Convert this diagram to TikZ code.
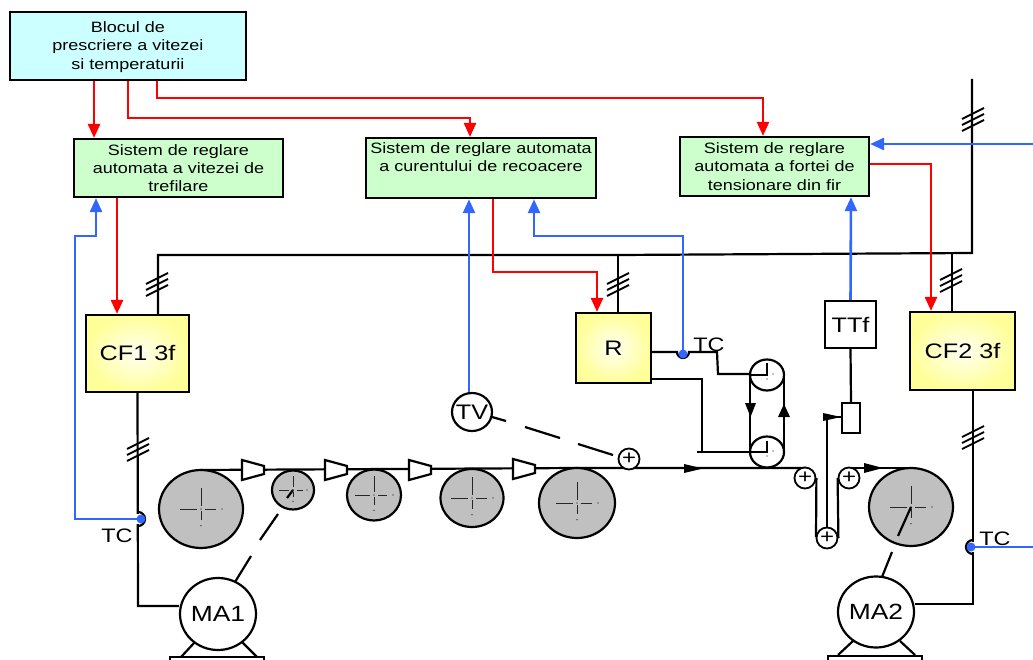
\documentclass[tikz,border=0pt]{standalone}
\usepackage{fontspec}
\setmainfont{Liberation Sans}
\newfontfamily\widefont[FakeStretch=1.2]{Liberation Sans}
\usetikzlibrary{arrows.meta,shapes.geometric,calc}
\definecolor{redw}{HTML}{FF0000}
\definecolor{bluew}{HTML}{3366FF}
\definecolor{rollgray}{HTML}{C0C0C0}
\definecolor{cyanb}{HTML}{CCFFFF}
\definecolor{greenb}{HTML}{CCFFCC}
\definecolor{yelout}{HTML}{FFFF99}
\definecolor{yelin}{HTML}{FFFFF2}
\tikzset{
  x=1pt,y=-1pt,
  blk/.style={line width=2.2pt,draw=black,line join=miter},
  redc/.style={line width=2.6pt,draw=redw,-{Triangle[length=14pt,width=12pt]}},
  bluec/.style={line width=2.6pt,draw=bluew,-{Triangle[length=14pt,width=12pt]}},
  bluep/.style={line width=2.6pt,draw=bluew},
  ctl/.style={draw=black,line width=2.2pt,fill=#1,align=center,inner sep=0pt,font=\widefont\fontsize{15}{18.2}\selectfont},
  yel/.style={draw=black,line width=2.2pt,inner color=yelin,outer color=yelout,align=center,inner sep=0pt,font=\widefont\fontsize{21}{22}\selectfont},
  roll/.style={ellipse,draw=black,line width=2.2pt,fill=rollgray,inner sep=0pt},
  wht/.style={ellipse,draw=black,line width=2.2pt,fill=white,inner sep=0pt,font=\widefont\fontsize{22}{24}\selectfont},
  plus/.style={circle,draw=black,line width=1.8pt,fill=white,inner sep=0pt,minimum size=#1,font=\widefont\fontsize{20}{20}\selectfont},
  lbl/.style={font=\widefont\fontsize{19.5}{20}\selectfont,inner sep=0pt},
  dot/.style={circle,fill=bluew,inner sep=0pt,minimum size=9pt},
}
% hash: three oblique ticks on a wire, centred at x,y
\newcommand{\hashm}[2]{\draw[line width=1.8pt] (#1-11,#2-1) -- (#1+11,#2-12) (#1-11,#2+5) -- (#1+11,#2-6) (#1-11,#2+11) -- (#1+11,#2);}
% centre mark
\newcommand{\centm}[3]{\draw[line width=1pt,draw=black!85] (#1-#3,#2) -- (#1-4,#2) (#1+4,#2) -- (#1+#3*0.7,#2) (#1,#2-#3) -- (#1,#2-3) (#1,#2+2) -- (#1,#2+#3*0.5);
  \fill (#1+#3,#2) circle (.6) (#1,#2+#3*0.8) circle (.6) (#1,#2) circle (.7);}
% nozzle
\newcommand{\nozz}[2]{\draw[line width=2.2pt,fill=white] (#1,#2-10) -- (#1+22,#2-4) -- (#1+22,#2+4) -- (#1,#2+10) -- cycle;}
\begin{document}
\begin{tikzpicture}
\useasboundingbox (0,0) rectangle (1033,660);
% control boxes
\node[ctl=cyanb,minimum width=236pt,minimum height=68pt] (top) at (128,46) {\rule{0pt}{13pt}Blocul de\\prescriere a vitezei\\si temperaturii};
\node[ctl=greenb,minimum width=209pt,minimum height=58pt] (g1) at (178.5,168) {Sistem de reglare\\automata a vitezei de\\trefilare};
\node[ctl=greenb,minimum width=230pt,minimum height=60pt,anchor=north,text depth=22pt] (g2) at (481,137) {Sistem de reglare automata\\a curentului de recoacere};
\node[ctl=greenb,minimum width=189pt,minimum height=59pt] (g3) at (774.5,166.5) {Sistem de reglare\\automata a fortei  de\\tensionare din fir};
% power boxes
\node[yel,minimum width=103pt,minimum height=77pt] (cf1) at (137.5,353.5) {CF1 3f};
\node[yel,minimum width=75pt,minimum height=70pt] (r) at (613.5,348) {R};
\node[yel,minimum width=105pt,minimum height=78pt] (cf2) at (962.5,351) {CF2 3f};
\node[draw=black,line width=2.2pt,fill=white,minimum width=51pt,minimum height=47pt,inner sep=0pt,font=\widefont\fontsize{21}{22}\selectfont] (ttf) at (850.5,324.5) {TTf};
\node[draw=black,line width=2.2pt,fill=white,minimum width=18pt,minimum height=30pt,inner sep=0pt] (sens) at (851,418) {};
% bus
\coordinate (bustop) at (972,79);
\draw[blk] (cf1.north -| 158,0) |- (618,255) -- (972,253) -- (bustop);
\draw[blk] (618,254) -- (r.north -| 618,0);
\draw[blk] (952,253) -- (cf2.north -| 952,0);
\hashm{157}{285}\hashm{618}{285}\hashm{951}{281}\hashm{973}{120}
% motors
\node[wht,minimum width=76pt,minimum height=72pt] (ma1) at (218,614) {\makebox[0pt]{MA1}};
\node[wht,minimum width=76pt,minimum height=71pt] (ma2) at (876,612) {\makebox[0pt]{MA2}};
\draw[line width=2.2pt] (170,660) -- (170,657) -- (264,657) -- (264,660);
\draw[line width=2.2pt] (828,660) -- (828,656) -- (922,656) -- (922,660);
\draw[line width=2.2pt] (195,642) -- (181,657) (242,642) -- (257,657);
\draw[line width=2.2pt] (853,641) -- (838,655) (900,641) -- (915,655);
% drive wires
\draw[blk] (cf1.south) -- (138,606) -- (ma1.west |- 0,606);
\draw[blk] (cf2.south -| 973,0) -- (973,604) -- (ma2.east |- 0,604);
\hashm{138}{450}\hashm{973}{438}
% strand
\draw[line width=2.2pt] (201,470) -- (577,468) -- (806,468);
\draw[line width=2.2pt] (847,468) -- (911,468);
% nozzles
\nozz{242}{470}\nozz{325}{470}\nozz{409}{470}\nozz{513}{469}
% rollers
\node[roll,minimum width=84pt,minimum height=78pt] (r1) at (201,509) {};
\node[roll,minimum width=42pt,minimum height=39pt] (r2) at (293,490) {};
\node[roll,minimum width=54pt,minimum height=51pt] (r3) at (374,495) {};
\node[roll,minimum width=63pt,minimum height=58pt] (r4) at (472,498) {};
\node[roll,minimum width=76pt,minimum height=70pt] (r5) at (577,503) {};
\node[roll,minimum width=84pt,minimum height=78pt] (r6) at (911,507) {};
\centm{201}{509}{21}\centm{293}{490}{14}\centm{374}{495}{19}\centm{472}{498}{21}\centm{577}{503}{21}\centm{911}{507}{21}
\draw[line width=2.2pt] (293,490) -- (287,498);
\draw[line width=2.2pt] (911,507) -- (898,536);
\draw[line width=2.2pt] (278,514) -- (260,540) (251,556) -- (235,582);
\draw[line width=2.2pt] (892,552) -- (882,577);
% TV
\node[wht,minimum width=40pt,minimum height=38pt,font=\widefont\fontsize{21}{21}\selectfont,inner sep=0pt] (tv) at (472,412) {\makebox[0pt]{TV}};
\node[plus=21pt] (p1) at (629,459) {+};
\draw[line width=2.2pt] (492,417) -- (506,421) (525,427) -- (560,438) (578,444) -- (613,455);
% pulleys
\draw[line width=2.2pt] (750,375) -- (750,452) (784,375) -- (784,452);
\node[ellipse,draw=black,line width=2.2pt,fill=white,minimum width=34pt,minimum height=31pt,inner sep=0pt] (pu) at (767,375) {};
\node[ellipse,draw=black,line width=2.2pt,fill=white,minimum width=34pt,minimum height=31pt,inner sep=0pt] (pd) at (767,452) {};
\draw[line width=1.3pt] (767,363) -- (767,375) -- (750,375);
\draw[line width=1.3pt] (767,441) -- (767,452) -- (750,452);
\fill (773,374) circle (.6) (767,379) circle (.6) (773,451) circle (.6) (767,456) circle (.6);
\fill (750.5,417) -- (745,403) -- (756,403) -- cycle;
\fill (784,404) -- (778,417) -- (790,417) -- cycle;
% R outputs
\draw[line width=2.2pt] (r.east |- 0,352) -- (677,352) arc[start angle=180,end angle=0,radius=6] -- (717,352) -- (718,374) -- (pu.west |- 0,374);
\draw[line width=2.2pt] (r.east |- 0,379) -- (702,379) -- (702,452);
\draw[line width=1.4pt] (697,452) -- (pd.west);
\node[lbl] (tc2) at (709,345) {TC};
\node[dot] (d2) at (683,354) {};
% loop
\node[plus=21pt] (p2) at (805,478) {+};
\node[plus=21pt] (p3) at (827,538) {+};
\node[plus=21pt] (p4) at (849,478) {+};
\draw[line width=2.2pt] (p2.east) -- (816,537);
\draw[line width=2.2pt] (p3.east) -- (p4.west);
\draw[line width=2.2pt] (p3.north) -- (827,417) -- (sens.west |- 0,417);
\fill (823,413) -- (841,417) -- (823,421) -- cycle;
\draw[blk] (ttf.south) -- (sens.north);
\fill (684,464) -- (703,468.5) -- (684,473) -- cycle;
\fill (864,463) -- (883,468) -- (864,473) -- cycle;
% TC left & right
\draw[white,line width=3.5pt] (138,514) -- (138,524);
\draw[white,line width=3.5pt] (973,542) -- (973,552);
\draw[line width=2.2pt] (138,512) arc[start angle=-90,end angle=90,radius=7];
\draw[line width=2.2pt] (973,540) arc[start angle=-90,end angle=-270,radius=7];
\node[dot] (d1) at (141,519) {};
\node[dot] (d3) at (971,547) {};
\node[lbl] (tc1) at (117,536) {TC};
\node[lbl] (tc3) at (995,539) {TC};
% red connectors
\draw[redc] (top.south -| 94,0) -- (g1.north -| 94,0);
\draw[redc,line width=2.2pt] (top.south -| 128,0) |- (470,118) -- (g2.north -| 470,0);
\draw[redc,line width=2.2pt] (top.south -| 157,0) |- (763,98) -- (g3.north -| 763,0);
\draw[redc] (g1.south -| 117,0) -- (cf1.north -| 117,0);
\draw[redc] (g2.south -| 493,0) |- (597,272) -- (r.north -| 597,0);
\draw[redc] (g3.east |- 0,164) -- (931,164) -- (cf2.north -| 931,0);
% blue connectors
\draw[bluec] (tv.north -| 469,0) -- (g2.south -| 469,0);
\draw[bluec] (d2.center) |- (534,236) -- (g2.south -| 534,0);
\draw[bluec] (ttf.north) -- (g3.south -| 851,0);
\draw[bluec] (d1.center) -- (75,519) -- (75,236) -- (96,236) -- (g1.south -| 96,0);
\coordinate (bl) at (1033,144);
\coordinate (br) at (1033,547);
\draw[bluec] (bl) -- (g3.east |- bl);
\draw[bluep] (d3.center) -- (br);
\end{tikzpicture}
\end{document}
